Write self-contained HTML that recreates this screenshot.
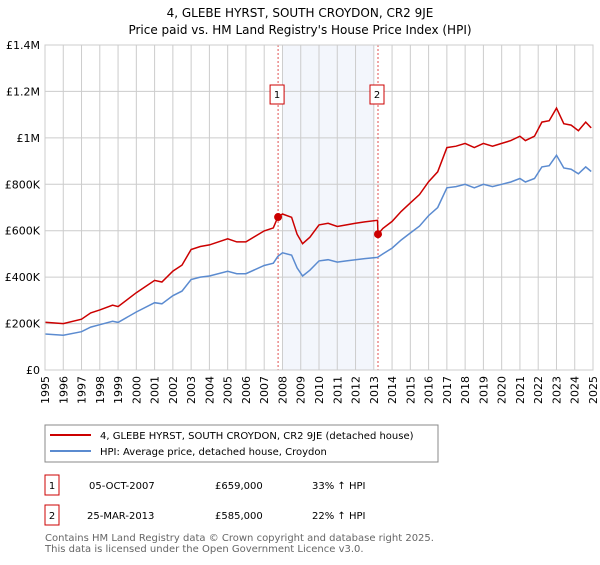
<!DOCTYPE html>
<html><head><meta charset="utf-8"><style>
body{margin:0;background:#fff;font-family:"Liberation Sans","DejaVu Sans",sans-serif;}
svg text{font-family:"DejaVu Sans","Liberation Sans",sans-serif;}
</style></head><body>
<svg id="c" width="600" height="560" xmlns="http://www.w3.org/2000/svg">
<text x="300" y="17" font-size="12" text-anchor="middle" fill="#000">4, GLEBE HYRST, SOUTH CROYDON, CR2 9JE</text>
<text x="300" y="34" font-size="12" text-anchor="middle" fill="#000">Price paid vs. HM Land Registry's House Price Index (HPI)</text>
<g id="plot"></g>
<rect x="45" y="425" width="393" height="37" fill="#fff" stroke="#888"/>
<line x1="50" y1="435" x2="91" y2="435" stroke="#cc0000" stroke-width="2"/>
<text x="100" y="439" font-size="10">4, GLEBE HYRST, SOUTH CROYDON, CR2 9JE (detached house)</text>
<line x1="50" y1="451" x2="91" y2="451" stroke="#5b8bd0" stroke-width="2"/>
<text x="100" y="455" font-size="10">HPI: Average price, detached house, Croydon</text>
<g font-size="10">
<rect x="45" y="475" width="14" height="20" fill="none" stroke="#cc0000"/>
<text x="52" y="489" text-anchor="middle">1</text>
<text x="89" y="489">05-OCT-2007</text>
<text x="215" y="489">£659,000</text>
<text x="312" y="489">33% ↑ HPI</text>
<rect x="45" y="505" width="14" height="20" fill="none" stroke="#cc0000"/>
<text x="52" y="519" text-anchor="middle">2</text>
<text x="87" y="519">25-MAR-2013</text>
<text x="215" y="519">£585,000</text>
<text x="312" y="519">22% ↑ HPI</text>
</g>
<text x="45" y="541" font-size="10" fill="#666">Contains HM Land Registry data © Crown copyright and database right 2025.</text>
<text x="45" y="552" font-size="10" fill="#666">This data is licensed under the Open Government Licence v3.0.</text>
</svg>
<script>
const hpiDates=[1995,1996,1997,1997.5,1998,1998.7,1999,2000,2001,2001.4,2002,2002.5,2003,2003.5,2004,2005,2005.5,2006,2007,2007.5,2007.75,2008,2008.5,2008.8,2009.1,2009.5,2010,2010.5,2011,2011.5,2012,2012.5,2013.2,2013.5,2014,2014.5,2015,2015.5,2016,2016.5,2017,2017.5,2018,2018.5,2019,2019.5,2020,2020.5,2021,2021.3,2021.8,2022.2,2022.6,2023,2023.4,2023.8,2024.2,2024.6,2024.9];
const hpiValues=[155,150,165,185,195,210,205,250,290,285,320,340,390,400,405,425,415,415,450,460,490,505,495,440,405,430,470,475,465,470,475,480,485,500,525,560,590,620,665,700,785,790,800,785,800,790,800,810,825,810,825,875,880,925,870,865,845,875,855];
const propDates=[1995,1996,1997,1997.5,1998,1998.7,1999,2000,2001,2001.4,2002,2002.5,2003,2003.5,2004,2005,2005.5,2006,2007,2007.5,2007.75,2008,2008.5,2008.8,2009.1,2009.5,2010,2010.5,2011,2011.5,2012,2012.5,2013.2,2013.23,2013.5,2014,2014.5,2015,2015.5,2016,2016.5,2017,2017.5,2018,2018.5,2019,2019.5,2020,2020.5,2021,2021.3,2021.8,2022.2,2022.6,2023,2023.4,2023.8,2024.2,2024.6,2024.9];
const propValues=[206,200,219,246,259,279,273,333,386,379,426,452,519,532,539,565,552,552,599,612,659,672,658,585,544,572,625,632,618,625,632,638,645,585,610,640,683,720,756,811,854,958,964,976,958,976,964,976,988,1007,988,1007,1068,1074,1128,1061,1055,1031,1068,1043];
const saleDates=[2007.76,2013.23];
const saleValues=[659,585];
const yTicks=[0,200,400,600,800,1000,1200,1400];
const yLabels=["£0","£200K","£400K","£600K","£800K","£1M","£1.2M","£1.4M"];
const xYears=[];for(let y=1995;y<=2025;y++)xYears.push(y);

const X0=45,X1=593,Y0=370,Y1=45;
const xs=d=>X0+(d-1995)/(2025-1995)*(X1-X0);
const ys=v=>Y0-v/1400*(Y0-Y1);
const NS="http://www.w3.org/2000/svg";
const g=document.getElementById('plot');
function mk(t,a){const e=document.createElementNS(NS,t);for(const k in a)e.setAttribute(k,a[k]);g.appendChild(e);return e;}
let e;
e=mk('rect',{x:xs(2008),y:Y1,width:xs(2013)-xs(2008),height:Y0-Y1,fill:'#eef2fb',opacity:0.7});


yTicks.forEach((t,i)=>{
 e=mk('line',{x1:X0,x2:X1,y1:ys(t),y2:ys(t),stroke:'#ccc'});
 
 
 e=mk('text',{x:40,y:ys(t)+4,'font-size':11,'text-anchor':'end'});e.textContent=yLabels[i];
 
 
});
xYears.forEach(y=>{
 e=mk('line',{x1:xs(y),x2:xs(y),y1:Y1,y2:Y0,stroke:'#ccc'});
 
 
 e=mk('text',{x:0,y:0,'font-size':11,'text-anchor':'end',transform:`translate(${xs(y)+4},${Y0+6}) rotate(-90)`});e.textContent=y;
 
 
});
saleDates.forEach((d,i)=>{
 e=mk('line',{x1:xs(d),x2:xs(d),y1:Y1,y2:Y0,stroke:'#e05050','stroke-dasharray':'2,2','stroke-width':1});
 
 
 e=mk('rect',{x:xs(d)-8,y:85,width:14,height:19,fill:'#fff',stroke:'#cc0000'});
 
 
 e=mk('text',{x:xs(d)-1,y:98,'font-size':10,'text-anchor':'middle'});e.textContent=String(i+1);
 
 
});
function line(ds,vs,c,n){
 const p=ds.map((d,i)=>(i?'L':'M')+xs(d).toFixed(1)+','+ys(vs[i]).toFixed(1)).join('');
 e=mk('path',{d:p,fill:'none',stroke:c,'stroke-width':1.5});
 
 
}
line(hpiDates,hpiValues,'#5b8bd0','hpi-line');
line(propDates,propValues,'#cc0000','property-line');
saleDates.forEach((d,i)=>{
 e=mk('circle',{cx:xs(d),cy:ys(saleValues[i]),r:4,fill:'#cc0000'});
 
 
});
e=mk('rect',{x:X0,y:Y1,width:X1-X0,height:Y0-Y1,fill:'none',stroke:'#ccc'});


</script>
</body></html>
